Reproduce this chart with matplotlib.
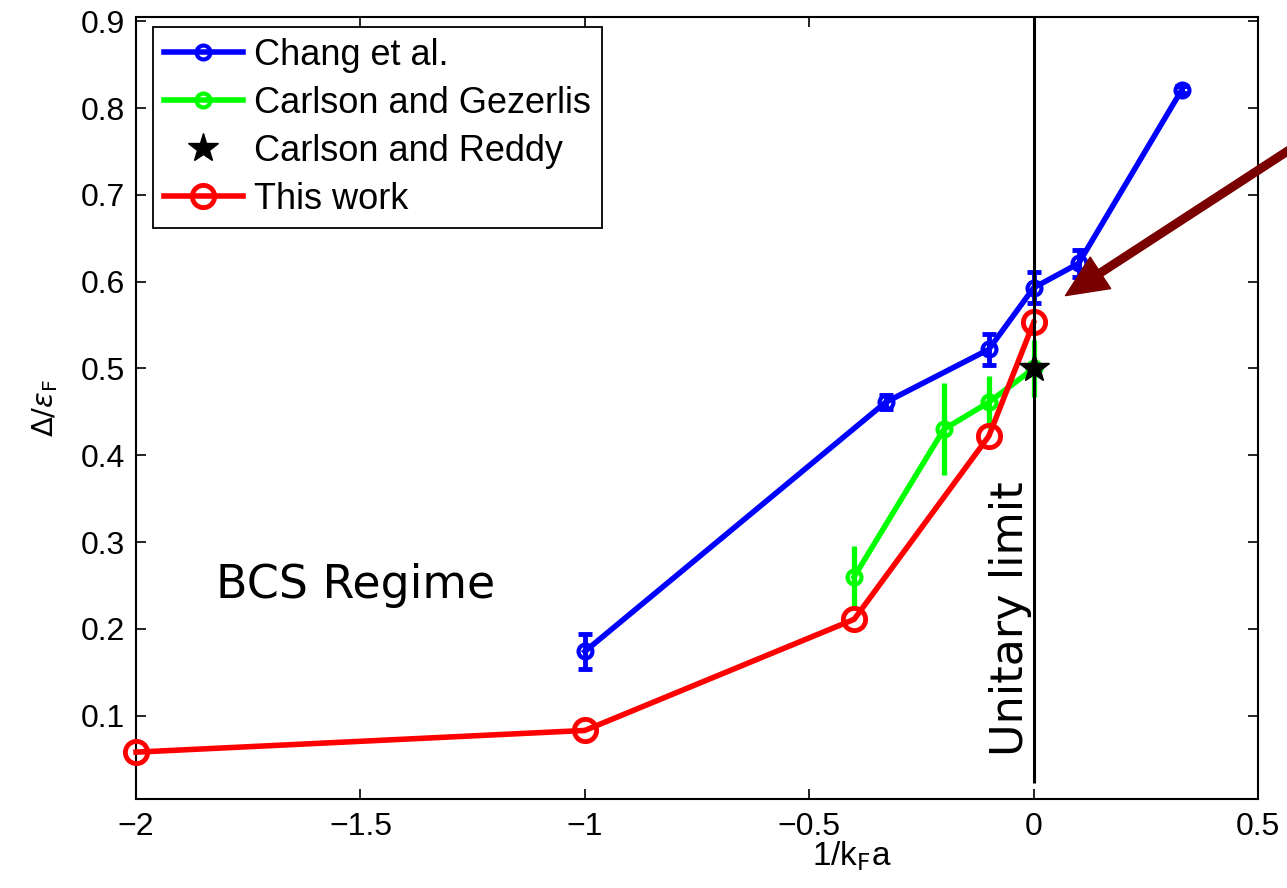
import numpy as np
import matplotlib
matplotlib.use('Agg')
import matplotlib.pyplot as plt

# data
chang_x = [-1, -0.33, -0.1, 0, 0.1, 0.33]
chang_y = [0.174, 0.461, 0.522, 0.593, 0.621, 0.821]
chang_err = [0.02, 0.008, 0.018, 0.018, 0.016, 0.004]

gez_x = [-0.4, -0.2, -0.1, 0]
gez_y = [0.26, 0.43, 0.461, 0.50]
gez_err = [0.036, 0.053, 0.03, 0.033]

reddy_x = [0]
reddy_y = [0.50]

work_x = [-2, -1, -0.4, -0.1, 0]
work_y = [0.058, 0.083, 0.211, 0.422, 0.553]

xticks = [-2, -1.5, -1, -0.5, 0, 0.5]
xticklabels = ['\u22122', '\u22121.5', '\u22121', '\u22120.5', '0', '0.5']
yticks = [0.1, 0.2, 0.3, 0.4, 0.5, 0.6, 0.7, 0.8, 0.9]
yticklabels = ['0.1', '0.2', '0.3', '0.4', '0.5', '0.6', '0.7', '0.8', '0.9']

plt.rcParams['font.family'] = ['Liberation Sans', 'DejaVu Sans']

fig = plt.figure(figsize=(12.87, 8.88), dpi=100)
ax = fig.add_axes([0.1057, 0.1002, 0.8718, 0.8807])

# Chang et al.
ax.errorbar(chang_x, chang_y, yerr=chang_err, fmt='none', ecolor='#0000ff',
            elinewidth=3.5, capsize=5, capthick=3.5, zorder=2)
l1, = ax.plot(chang_x, chang_y, '-o', color='#0000ff', lw=4, ms=10,
              mfc='none', mew=3, label='Chang et al.', zorder=2)

# Carlson and Gezerlis
ax.errorbar(gez_x, gez_y, yerr=gez_err, fmt='none', ecolor='#00ff00',
            elinewidth=3.8, capsize=0, zorder=3)
l2, = ax.plot(gez_x, gez_y, '-o', color='#00ff00', lw=4, ms=10,
              mfc='none', mew=3, label='Carlson and Gezerlis', zorder=3)

# This work
l4, = ax.plot(work_x, work_y, '-o', color='#ff0000', lw=4, ms=16,
              mfc='none', mew=3.5, label='This work', zorder=4, clip_on=False)

# Carlson and Reddy
l3, = ax.plot(reddy_x, reddy_y, '*', color='k', ms=22, lw=0,
              label='Carlson and Reddy', zorder=6)

# unitary limit line
ax.vlines(0, 0.022, 0.905, color='k', lw=2.2, zorder=5)

ax.text(-0.051, 0.212, 'Unitary limit', rotation=90, ha='center', va='center',
        fontsize=32, family='DejaVu Sans')
ax.text(-1.511, 0.25, 'BCS Regime', ha='center', va='center',
        fontsize=33, family='DejaVu Sans')

ax.annotate('', xy=(0.071, 0.584), xytext=(0.60, 0.762),
            arrowprops=dict(color='#7a0000', width=5.5, headwidth=27,
                            headlength=30, shrink=0),
            annotation_clip=False)

ax.set_xlim(-2, 0.5)
ax.set_ylim(0.004, 0.905)
ax.set_xticks(xticks)
ax.set_xticklabels(xticklabels)
ax.set_yticks(yticks)
ax.set_yticklabels(yticklabels)
ax.tick_params(direction='in', length=7, width=1.2, top=True, right=True,
               labelsize=23)
ax.tick_params(axis='x', pad=9)
ax.tick_params(axis='y', pad=8)
for s in ax.spines.values():
    s.set_linewidth(1.5)

ax.set_xlabel(r'1/k$_{\rm F}$a', fontsize=24)
ax.xaxis.set_label_coords(0.638, -0.052)
ax.set_ylabel(r'$\Delta/\varepsilon_{\rm F}$', fontsize=21)
ax.yaxis.set_label_coords(-0.068, 0.5)

leg = ax.legend(handles=[l1, l2, l3, l4], loc='upper left',
                bbox_to_anchor=(0.015, 0.987), borderaxespad=0,
                fontsize=26, handlelength=2.2, handletextpad=0.3,
                labelspacing=0.36, fancybox=False, framealpha=1,
                edgecolor='k', borderpad=0.3)
leg.get_frame().set_linewidth(1.3)

fig.savefig('out.png', dpi=100)
